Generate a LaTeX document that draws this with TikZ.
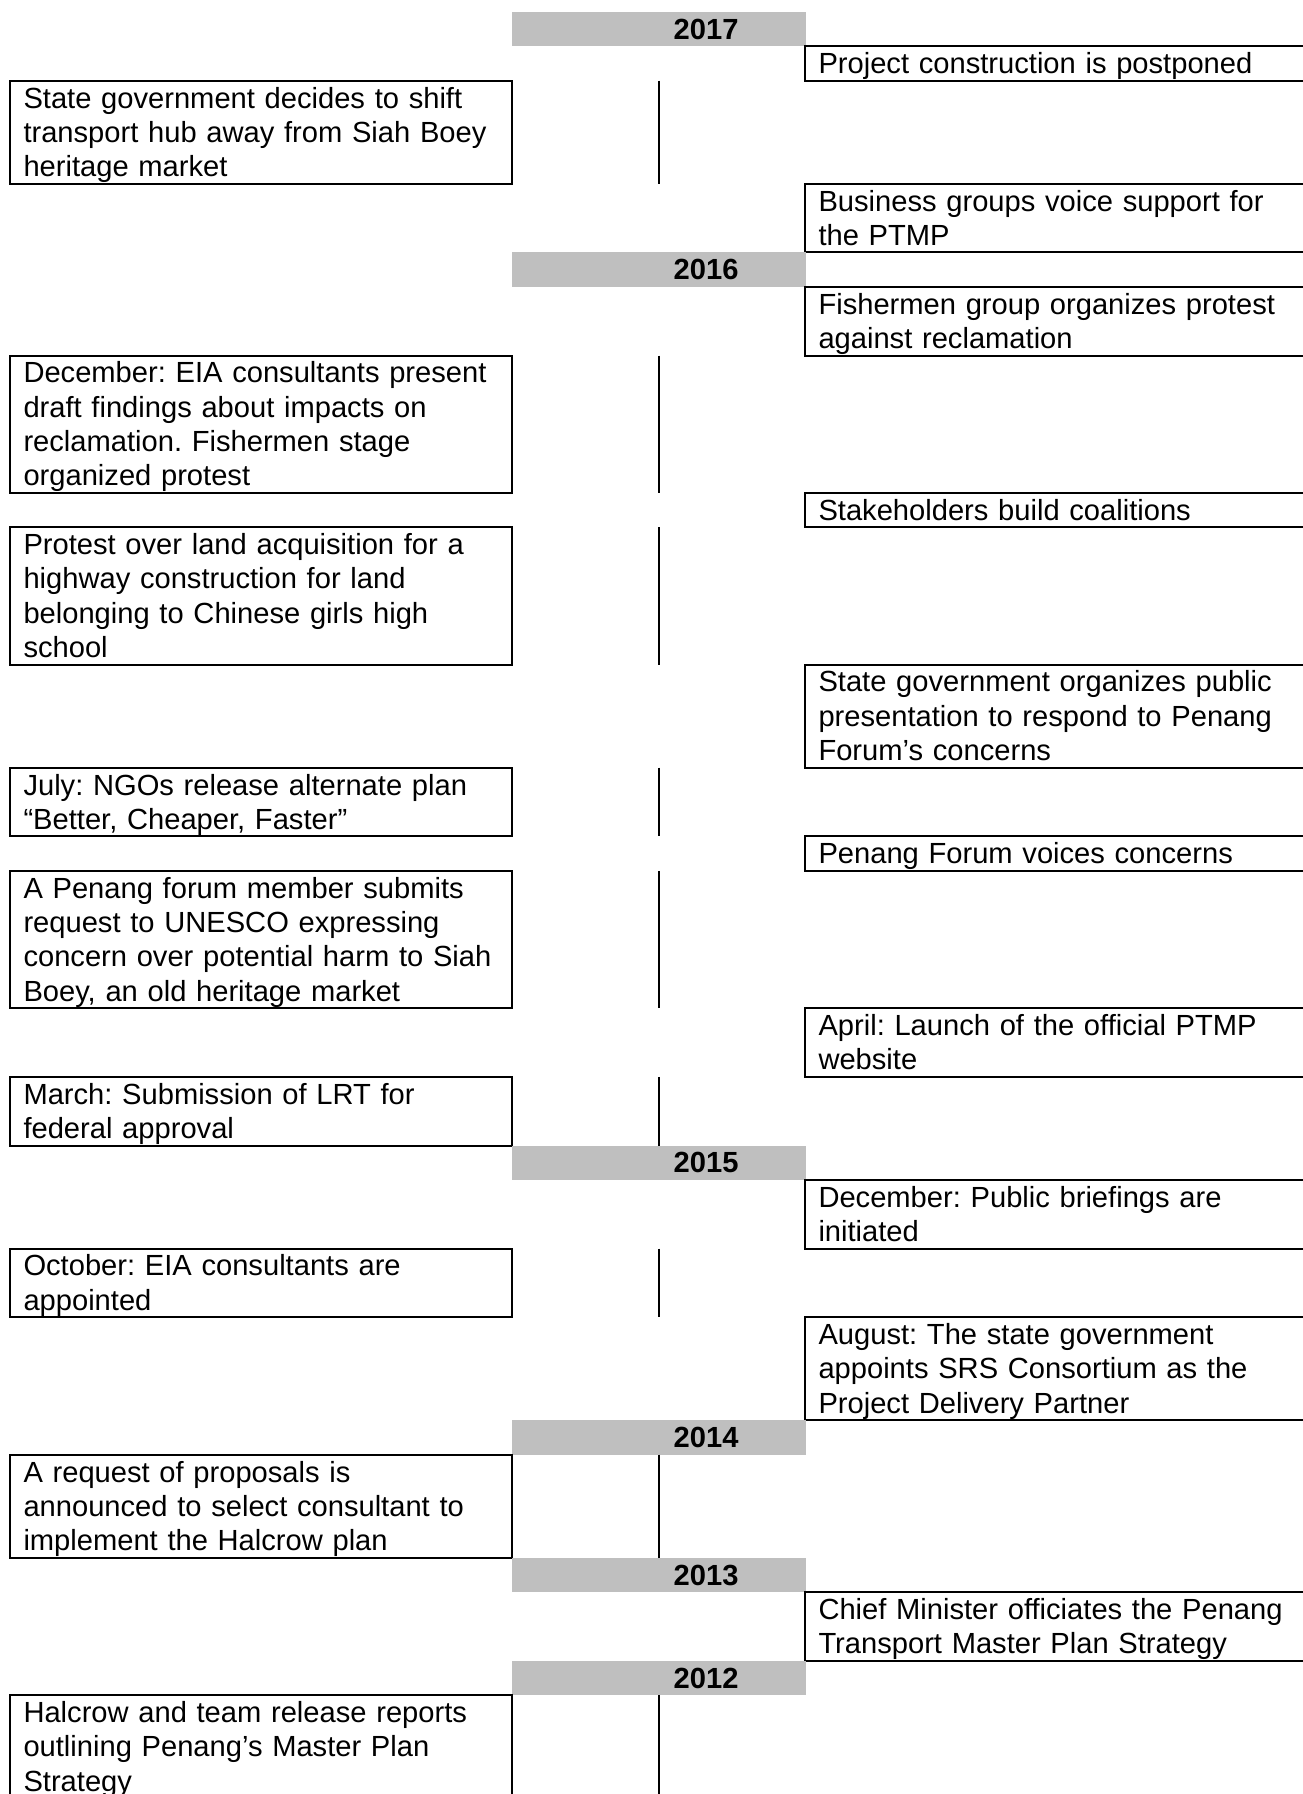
\documentclass[tikz,border=0pt]{standalone}
\usepackage{fontspec}
\setmainfont{Liberation Sans}
\usetikzlibrary{positioning}
\definecolor{yeargray}{RGB}{191,191,191}
\newcommand{\linestrut}{\rule[-2.82pt]{0pt}{13.74pt}}
\frenchspacing

\begin{document}
\begin{tikzpicture}[x=0.4pt, y=-0.4pt,
    event/.style={rectangle, draw, line width=0.8pt, outer sep=0pt, anchor=north west,
        inner xsep=5.4pt, inner ysep=0pt, text width=190pt, align=left,
        font=\fontsize{11.65pt}{13.74pt}\selectfont,
        execute at begin node={\linestrut}, execute at end node={\linestrut}},
    yearband/.style={rectangle, fill=yeargray, outer sep=0pt, anchor=north west,
        minimum height=13.74pt, inner xsep=27pt, inner ysep=0pt, text width=63.6pt, align=right,
        font=\fontsize{11.65pt}{13.74pt}\selectfont\bfseries,
        execute at begin node={\linestrut}},
    midline/.style={line width=0.8pt}
]
    \useasboundingbox (0,0) rectangle (1302,1794);

    % Columns: left events, year band, centre line, right events
    \coordinate (lcol) at (10,0);
    \coordinate (rcol) at (805,0);
    \coordinate (ycol) at (512,0);
    \coordinate (mid) at (659,0);

    % 2017
    \node[yearband] (y2017) at (512,12) {2017};
    \node[event] (postpone) at (y2017.south -| rcol) {Project construction is postponed};
    \node[event] (shift) at (postpone.south -| lcol) {State government decides to shift\\transport hub away from Siah Boey\\heritage market};
    \node[event] (business) at (shift.south -| rcol) {Business groups voice support for\\the PTMP};

    % 2016
    \node[yearband] (y2016) at (business.south -| ycol) {2016};
    \node[event] (fisher) at (y2016.south -| rcol) {Fishermen group organizes protest\\against reclamation};
    \node[event] (eia) at (fisher.south -| lcol) {December: EIA consultants present\\draft findings about impacts on\\reclamation. Fishermen stage\\organized protest};
    \node[event] (coalition) at (eia.south -| rcol) {Stakeholders build coalitions};
    \node[event] (school) at (coalition.south -| lcol) {Protest over land acquisition for a\\highway construction for land\\belonging to Chinese girls high\\school};
    \node[event] (present) at (school.south -| rcol) {State government organizes public\\presentation to respond to Penang\\Forum’s concerns};
    \node[event] (ngo) at (present.south -| lcol) {July: NGOs release alternate plan\\“Better, Cheaper, Faster”};
    \node[event] (voices) at (ngo.south -| rcol) {Penang Forum voices concerns};
    \node[event] (unesco) at (voices.south -| lcol) {A Penang forum member submits\\request to UNESCO expressing\\concern over potential harm to Siah\\Boey, an old heritage market};
    \node[event] (web) at (unesco.south -| rcol) {April: Launch of the official PTMP\\website};
    \node[event] (lrt) at (web.south -| lcol) {March: Submission of LRT for\\federal approval};

    % 2015
    \node[yearband] (y2015) at (lrt.south -| ycol) {2015};
    \node[event] (brief) at (y2015.south -| rcol) {December: Public briefings are\\initiated};
    \node[event] (eiaapp) at (brief.south -| lcol) {October: EIA consultants are\\appointed};
    \node[event] (srs) at (eiaapp.south -| rcol) {August: The state government\\appoints SRS Consortium as the\\Project Delivery Partner};

    % 2014
    \node[yearband] (y2014) at (srs.south -| ycol) {2014};
    \node[event] (rfp) at (y2014.south -| lcol) {A request of proposals is\\announced to select consultant to\\implement the Halcrow plan};

    % 2013
    \node[yearband] (y2013) at (rfp.south -| ycol) {2013};
    \node[event] (cm) at (y2013.south -| rcol) {Chief Minister officiates the Penang\\Transport Master Plan Strategy};

    % 2012
    \node[yearband] (y2012) at (cm.south -| ycol) {2012};
    \node[event] (halcrow) at (y2012.south -| lcol) {Halcrow and team release reports\\outlining Penang’s Master Plan\\Strategy};

    % Centre line beside each left event
    \foreach \ev in {shift, eia, school, ngo, unesco, lrt, eiaapp, rfp, halcrow}
        \draw[midline] (\ev.north -| mid) -- (\ev.south -| mid);
\end{tikzpicture}
\end{document}
